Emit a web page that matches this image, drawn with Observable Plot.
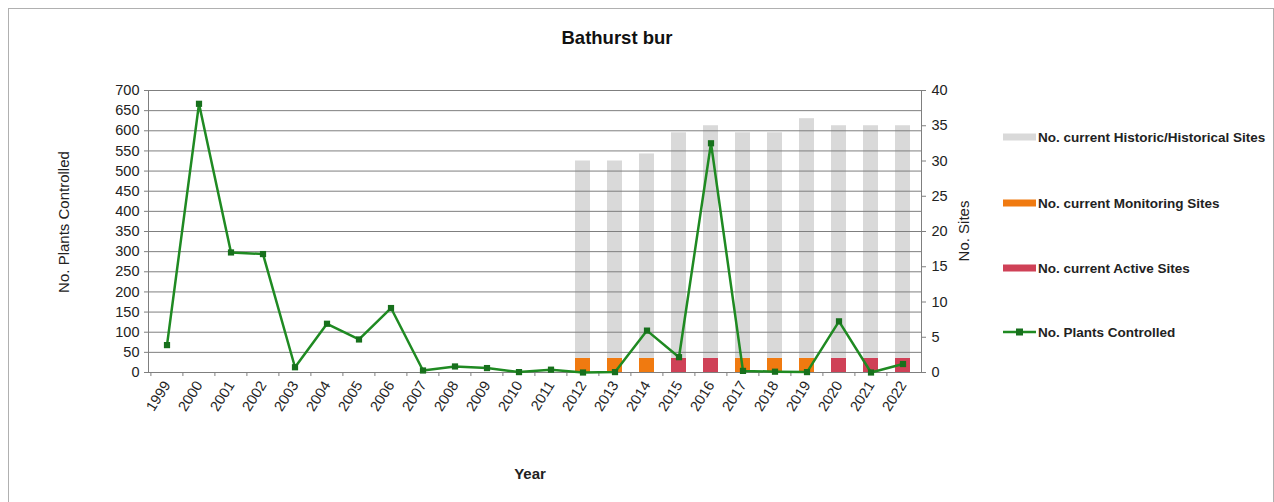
<!DOCTYPE html>
<html><head><meta charset="utf-8">
<script src="https://cdn.jsdelivr.net/npm/d3@7"></script>
<script src="https://cdn.jsdelivr.net/npm/@observablehq/plot@0.6"></script>
<style>
body{margin:0;background:#fff;font-family:"Liberation Sans",Arial,sans-serif}
</style>
</head><body><div id="chart"></div>
<script>
const title = "Bathurst bur";
const years = ["1999","2000","2001","2002","2003","2004","2005","2006","2007","2008","2009","2010","2011","2012","2013","2014","2015","2016","2017","2018","2019","2020","2021","2022"];
const plantsControlled = [68,667,298,294,13,121,82,160,5,15,11,1,7,0,1,104,38,569,4,2,1,127,0,21];
const siteYears = ["2012","2013","2014","2015","2016","2017","2018","2019","2020","2021","2022"];
const activeSites =     [0,0,0,2,2,0,0,0,2,2,2];
const monitoringSites = [2,2,2,0,0,2,2,2,0,0,0];
const historicSites =   [28,28,29,32,33,32,32,34,33,33,33];
const leftTicks = d3.range(0, 701, 50);
const rightTicks = d3.range(0, 41, 5);
const seriesNames = ["No. current Historic/Historical Sites","No. current Monitoring Sites","No. current Active Sites","No. Plants Controlled"];
const seriesColors = {"No. current Historic/Historical Sites":"#d9d9d9","No. current Monitoring Sites":"#f07a10","No. current Active Sites":"#cf4157","No. Plants Controlled":"#1f8a22"};

const SITE_SCALE = 700 / 40; // left units per site (dual axis)

const lineData = years.map((y, i) => ({year: y, value: plantsControlled[i]}));
const barData = [];
siteYears.forEach((y, i) => {
  barData.push({year: y, series: seriesNames[2], value: activeSites[i] * SITE_SCALE});
  barData.push({year: y, series: seriesNames[1], value: monitoringSites[i] * SITE_SCALE});
  barData.push({year: y, series: seriesNames[0], value: historicSites[i] * SITE_SCALE});
});

const W = 1274, H = 502;
const mL = 148, mR = 353;
const step = (W - mL - mR) / years.length;
const chart = Plot.plot({
  width: W, height: H,
  marginLeft: mL, marginRight: mR, marginTop: 90, marginBottom: 130,
  style: {fontFamily: "'Liberation Sans', Arial, sans-serif", fontSize: "14px", color: "#222", background: "#fff"},
  x: {type: "band", domain: years, paddingInner: 0.52, paddingOuter: 0.26, label: null},
  y: {domain: [0, 700], label: null},
  marks: [
    Plot.barY(barData, {x: "year", y: "value", fill: d => seriesColors[d.series], order: null}),
    Plot.gridY(leftTicks.filter(t => t > 0), {stroke: "#7f7f7f", strokeOpacity: 1}),
    Plot.frame({stroke: "#7f7f7f"}),
    Plot.ruleX(years, {x: d => d, y1: 0, y2: -10, dx: -step / 2, stroke: "#7f7f7f"}),
    Plot.axisY(leftTicks, {anchor: "left", tickSize: 4, tickPadding: 5, fontSize: 14.5, label: null, stroke: "#7f7f7f"}),
    Plot.axisY(rightTicks.map(s => s * SITE_SCALE), {anchor: "right", tickSize: 4, tickPadding: 6, fontSize: 14.5, label: null, stroke: "#7f7f7f", tickFormat: d => Math.round(d / SITE_SCALE)}),
    Plot.axisX({tickRotate: -58, tickSize: 0, tickPadding: 10, fontSize: 14.5, label: null}),
    Plot.line(lineData, {x: "year", y: "value", stroke: seriesColors[seriesNames[3]], strokeWidth: 2.5}),
    Plot.dot(lineData, {x: "year", y: "value", symbol: "square", r: 3.5, fill: "#17701c", stroke: "none"})
  ]
});

const svg = d3.select(chart);
const FONT = "'Liberation Sans', Arial, sans-serif";
svg.insert("rect", ":first-child").attr("x", 8.5).attr("y", 8.5).attr("width", W - 9).attr("height", H).attr("fill", "#fff").attr("stroke", "#b0b0b0");
svg.append("text").attr("x", 617).attr("y", 44).attr("text-anchor", "middle").attr("font-family", FONT).attr("font-weight", "bold").attr("font-size", 18.5).attr("fill", "#111").text(title);
svg.append("text").attr("transform", "translate(69,222) rotate(-90)").attr("text-anchor", "middle").attr("font-family", FONT).attr("font-size", 15).attr("fill", "#222").text("No. Plants Controlled");
svg.append("text").attr("transform", "translate(969,231) rotate(-90)").attr("text-anchor", "middle").attr("font-family", FONT).attr("font-size", 15).attr("fill", "#222").text("No. Sites");
svg.append("text").attr("x", 530).attr("y", 479).attr("text-anchor", "middle").attr("font-family", FONT).attr("font-weight", "bold").attr("font-size", 15).attr("fill", "#222").text("Year");

const legendY = [137, 203, 268, 332];
seriesNames.forEach((name, i) => {
  const g = svg.append("g").attr("transform", `translate(1003,${legendY[i]})`);
  if (i === 3) {
    g.append("line").attr("x1", 0).attr("x2", 33).attr("y1", 0).attr("y2", 0).attr("stroke", seriesColors[name]).attr("stroke-width", 2.5);
    g.append("rect").attr("x", 13).attr("y", -3.5).attr("width", 7).attr("height", 7).attr("fill", "#17701c");
  } else {
    g.append("rect").attr("x", 0).attr("y", -3.5).attr("width", 33).attr("height", 7).attr("fill", seriesColors[name]);
  }
  g.append("text").attr("x", 35).attr("y", 5).attr("text-anchor", "start").attr("font-family", FONT).attr("font-weight", "bold").attr("font-size", 13.5).attr("fill", "#222").text(name);
});

document.getElementById("chart").appendChild(chart);
</script>
</body></html>
